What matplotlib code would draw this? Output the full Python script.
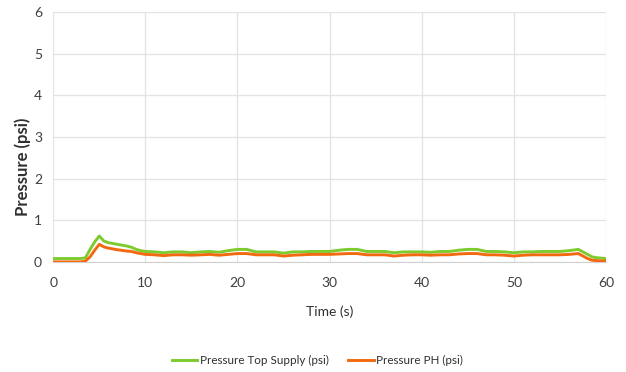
import matplotlib
matplotlib.use("Agg")
import matplotlib.pyplot as plt

# Sample times (s)
time_s = [0, 1, 2, 3, 3.5, 4, 4.5, 5, 5.5, 6, 7, 8, 8.5, 9, 9.5, 10, 11, 12, 13, 14, 15, 16, 17, 18,
          19, 20, 21, 22, 23, 24, 25, 26, 27, 28, 29, 30, 31, 32, 33, 34, 35, 36, 37, 38, 39,
          40, 41, 42, 43, 44, 45, 46, 47, 48, 49, 50, 51, 52, 53, 54, 55, 56, 57, 57.5, 58, 58.5, 59, 60]

# Pressure Top Supply (psi)
top_supply = [0.08, 0.08, 0.08, 0.08, 0.10, 0.30, 0.48, 0.62, 0.50, 0.46, 0.42, 0.38, 0.35, 0.30, 0.27, 0.25,
              0.24, 0.22, 0.24, 0.24, 0.22, 0.24, 0.25, 0.23, 0.27, 0.30, 0.30, 0.24, 0.24, 0.24,
              0.21, 0.24, 0.24, 0.25, 0.25, 0.25, 0.28, 0.30, 0.30, 0.25, 0.25, 0.25, 0.22, 0.24,
              0.24, 0.24, 0.23, 0.25, 0.25, 0.28, 0.30, 0.30, 0.25, 0.25, 0.24, 0.22, 0.24, 0.24,
              0.25, 0.25, 0.25, 0.27, 0.30, 0.24, 0.18, 0.12, 0.10, 0.08]

# Pressure PH (psi)
ph = [0.00, 0.00, 0.00, 0.00, 0.02, 0.12, 0.28, 0.42, 0.36, 0.33, 0.29, 0.26, 0.25, 0.22, 0.20, 0.18,
      0.17, 0.15, 0.17, 0.17, 0.16, 0.17, 0.18, 0.16, 0.18, 0.20, 0.20, 0.17, 0.17, 0.17,
      0.14, 0.16, 0.17, 0.18, 0.18, 0.18, 0.19, 0.20, 0.20, 0.17, 0.17, 0.17, 0.14, 0.16,
      0.17, 0.17, 0.16, 0.17, 0.17, 0.19, 0.20, 0.20, 0.17, 0.17, 0.16, 0.14, 0.16, 0.17,
      0.17, 0.17, 0.17, 0.18, 0.20, 0.14, 0.08, 0.04, 0.03, 0.02]

x_ticks = [0, 10, 20, 30, 40, 50, 60]
y_ticks = [0, 1, 2, 3, 4, 5, 6]

plt.rcParams['font.family'] = ['Lato', 'DejaVu Sans']

fig = plt.figure(figsize=(6.26, 3.72), dpi=100)
ax = fig.add_axes([0.085, 0.296, 0.883, 0.672])

ax.plot(time_s, top_supply, color='#7DCB2E', lw=2.1, label='Pressure Top Supply (psi)', zorder=3)
ax.plot(time_s, ph, color='#F26A10', lw=2.1, label='Pressure PH (psi)', zorder=3)

ax.set_xlim(0, 60)
ax.set_ylim(0, 6)
ax.set_xticks(x_ticks)
ax.set_yticks(y_ticks)
ax.grid(True, color='#E3E3E3', lw=0.9)
ax.set_axisbelow(True)
for side in ('top', 'right', 'left'):
    ax.spines[side].set_visible(False)
ax.spines['bottom'].set_color('#D0D0D0')
ax.tick_params(length=0, labelsize=10, colors='#404040')
ax.tick_params(axis='x', pad=11)
ax.tick_params(axis='y', pad=8)

ax.set_xlabel('Time (s)', fontsize=10, color='#303030', labelpad=12)
ax.set_ylabel('Pressure (psi)', fontsize=12, fontweight='bold', color='#303030')
ax.yaxis.set_label_coords(-0.04, 0.38)

fig.legend(loc='center', bbox_to_anchor=(0.507, 0.032), ncol=2, frameon=False,
           fontsize=8.4, handlelength=2.2, handletextpad=0.2, columnspacing=1.7,
           labelcolor='#303030')

fig.savefig('out.png', dpi=100)
